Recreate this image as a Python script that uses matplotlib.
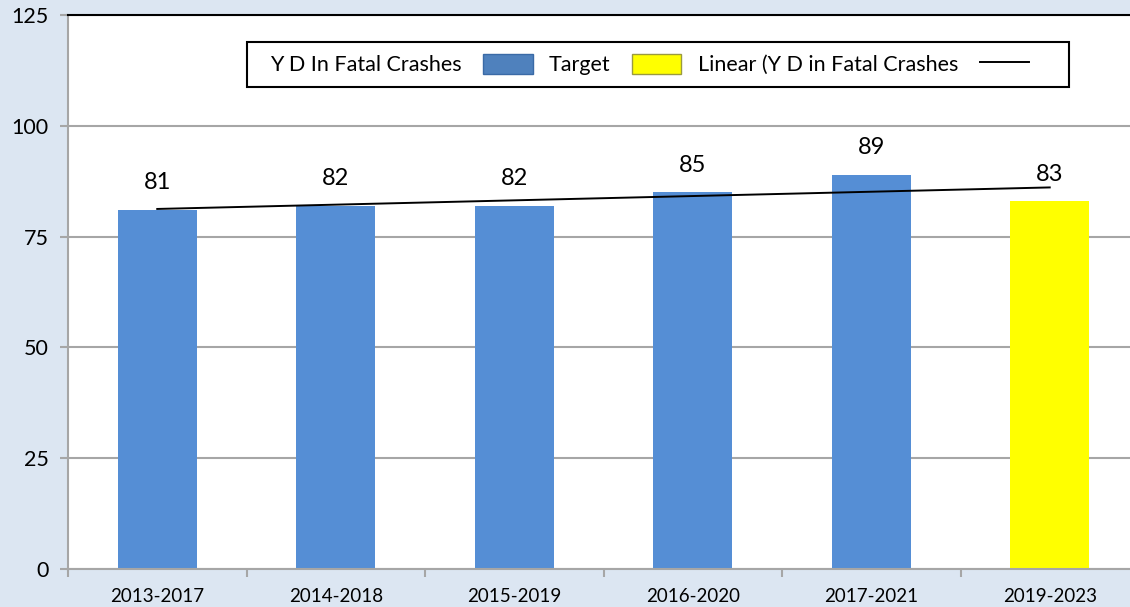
#!/usr/bin/env python3
"""Y D in fatal crashes, 5-year periods with target and linear trend."""

import numpy as np
import matplotlib
matplotlib.use("Agg")
import matplotlib.pyplot as plt
from matplotlib.patches import Patch, Rectangle
from matplotlib.lines import Line2D

# ── Data ──────────────────────────────────────────────────────────────────────

periods = ["2013-2017", "2014-2018", "2015-2019", "2016-2020", "2017-2021", "2019-2023"]
values = [81, 82, 82, 85, 89, 83]
is_target = [False, False, False, False, False, True]

BAR_COLOR = "#558ed5"
TARGET_COLOR = "#ffff00"
BG_COLOR = "#dce6f2"
GRID_COLOR = "#a6a6a6"

plt.rcParams["font.family"] = ["Lato", "DejaVu Sans"]


def main():
    fig = plt.figure(figsize=(11.3, 6.07), dpi=100, facecolor=BG_COLOR)
    # axes run a little past the right edge, as in the original
    ax = fig.add_axes([68 / 1130, 38 / 607, 1071 / 1130, 554 / 607])
    ax.set_facecolor("white")

    x = np.arange(len(periods))
    colors = [TARGET_COLOR if t else BAR_COLOR for t in is_target]
    ax.bar(x, values, width=0.44, color=colors, zorder=2)

    # linear trend over all six points
    slope, intercept = np.polyfit(x, values, 1)
    ax.plot(x, slope * x + intercept, color="black", linewidth=1.4, zorder=3)

    for xi, v in zip(x, values):
        ax.annotate(f"{v}", (xi, v), xytext=(0, 19.5), textcoords="offset points",
                    ha="center", va="center", fontsize=17, zorder=4)

    ax.set_xlim(-0.5, len(periods) - 0.5)
    ax.set_ylim(0, 125)
    ax.set_yticks([0, 25, 50, 75, 100, 125])
    ax.yaxis.grid(True, color=GRID_COLOR, linewidth=1.5, zorder=0)
    ax.tick_params(axis="y", labelsize=15.5, length=6, color=GRID_COLOR, width=1.5, pad=8)

    # ticks on category boundaries, labels in the middle
    ax.set_xticks(np.arange(len(periods) + 1) - 0.5)
    ax.set_xticklabels([])
    ax.tick_params(axis="x", which="major", length=6, color=GRID_COLOR, width=1.5)
    ax.set_xticks(x, minor=True)
    ax.set_xticklabels(periods, minor=True, fontsize=13.5)
    ax.tick_params(axis="x", which="minor", length=0, pad=14)

    for side in ["left", "bottom"]:
        ax.spines[side].set_color(GRID_COLOR)
        ax.spines[side].set_linewidth(1.5)
    ax.spines["top"].set_color("black")
    ax.spines["top"].set_linewidth(1.5)
    ax.spines["right"].set_visible(False)

    # legend box drawn by hand: Excel leaves extra room on the right
    ax.add_patch(Rectangle((0.1671, 0.870), 0.7675, 0.0813, transform=ax.transAxes,
                           facecolor="white", edgecolor="black", linewidth=1.5,
                           zorder=5, clip_on=False))
    handles = [
        Patch(facecolor="#4f81bd", edgecolor="#3a6aa6"),
        Patch(facecolor=TARGET_COLOR, edgecolor="#9a9a40"),
        Line2D([0], [0], color="black", linewidth=1.4),
    ]
    labels = ["Y D In Fatal Crashes", "Target", "Linear (Y D in Fatal Crashes"]
    leg = ax.legend(handles, labels, ncol=3, markerfirst=False, fontsize=15.5,
                    loc="center left", bbox_to_anchor=(0.1886, 0.9107),
                    frameon=False, handlelength=2.3, handleheight=1.05,
                    handletextpad=1.0, columnspacing=0.75,
                    borderpad=0, borderaxespad=0)
    leg.set_zorder(6)

    fig.savefig("out.png", dpi=100, facecolor=BG_COLOR)


if __name__ == "__main__":
    main()
